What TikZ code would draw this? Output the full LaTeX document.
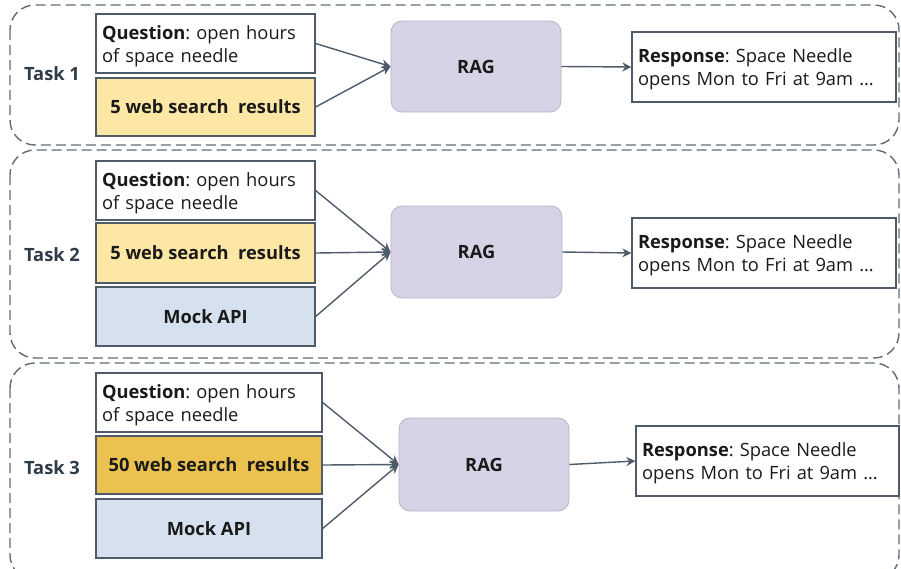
\documentclass[tikz,border=0pt]{standalone}
\usepackage{fontspec}
\setmainfont{Open Sans}
\usetikzlibrary{arrows.meta,positioning}
\definecolor{edge}{HTML}{4F5B69}
\definecolor{dashc}{HTML}{5F6B78}
\definecolor{ylight}{HTML}{FCE7A5}
\definecolor{ydark}{HTML}{EBC24F}
\definecolor{bluef}{HTML}{D5E1EF}
\definecolor{lav}{HTML}{D8D2E6}
\definecolor{lavb}{HTML}{B8B2C8}
\definecolor{labc}{HTML}{2F3B48}
\definecolor{txtc}{HTML}{1A1A1A}
\newcommand{\topfix}{\rule{0pt}{19pt}}
\tikzset{
  txt/.style={font=\fontsize{18.3}{23}\selectfont, text=txtc},
  inbox/.style={draw=edge, line width=1.3pt, inner sep=0pt, txt},
  qbox/.style={inbox, fill=white, align=left, text width=#1},
  wbox/.style={inbox, font=\fontsize{18.3}{23}\selectfont\bfseries},
  ragbox/.style={draw=lavb, fill=lav, line width=0.8pt, rounded corners=11pt, text=txtc, font=\fontsize{18.3}{23}\selectfont\bfseries},
  rbox/.style={inbox, fill=white, align=left},
  group/.style={draw=dashc, line width=1.4pt, dash pattern=on 10pt off 5pt, rounded corners=25pt},
  tasklbl/.style={text=labc, font=\fontsize{18.3}{20}\selectfont\bfseries},
  conn/.style={draw=edge, line width=1.4pt, -{Stealth[length=9pt,width=9pt]}},
}
\frenchspacing
\begin{document}
\begin{tikzpicture}[x=1pt,y=-1pt]
\useasboundingbox (0,0) rectangle (901,568);
% containers
\draw[group] (10,5) rectangle (899,145);
\draw[group] (10,150) rectangle (899,358);
\draw[group] (10,363) rectangle (899,580);

% Task 1
\node[tasklbl] (t1) at (52,74) {Task 1};
\node[qbox=207pt, minimum width=219pt, minimum height=59pt] (q1) at (205.5,43.5) {\topfix\textbf{Question}: open hours\\of space needle};
\node[wbox, fill=ylight, minimum width=219pt, minimum height=58pt] (w1) at (205.5,107) {5 web search\ \ results};
\node[ragbox, minimum width=170pt, minimum height=91pt] (rag1) at (476,66.5) {RAG};
\node[rbox, minimum width=264pt, minimum height=70pt, text width=252pt] (r1) at (764,67) {\topfix\textbf{Response}: Space Needle\\opens Mon to Fri at 9am \dots};
\draw[conn] (q1.east) -- (rag1.west);
\draw[conn] (w1.east) -- (rag1.west);
\draw[conn] (rag1.east) -- (r1.west);

% Task 2
\node[tasklbl] (t2) at (52,255) {Task 2};
\node[qbox=207pt, minimum width=219pt, minimum height=59pt] (q2) at (205.5,190.5) {\topfix\textbf{Question}: open hours\\of space needle};
\node[wbox, fill=ylight, minimum width=219pt, minimum height=60pt] (w2) at (205.5,253) {5 web search\ \ results};
\node[wbox, fill=bluef, minimum width=219pt, minimum height=59pt] (m2) at (205.5,316.5) {Mock API};
\node[ragbox, minimum width=171pt, minimum height=92pt] (rag2) at (476.5,252) {RAG};
\node[rbox, minimum width=264pt, minimum height=70pt, text width=252pt] (r2) at (764,253) {\topfix\textbf{Response}: Space Needle\\opens Mon to Fri at 9am \dots};
\draw[conn] (q2.east) -- (rag2.west);
\draw[conn] (w2.east) -- (rag2.west);
\draw[conn] (m2.east) -- (rag2.west);
\draw[conn] (rag2.east) -- (r2.west);

% Task 3
\node[tasklbl] (t3) at (52,468) {Task 3};
\node[qbox=214pt, minimum width=226pt, minimum height=59pt] (q3) at (209,402.5) {\topfix\textbf{Question}: open hours\\of space needle};
\node[wbox, fill=ydark, minimum width=226pt, minimum height=58pt] (w3) at (209,465) {50 web search\ \ results};
\node[wbox, fill=bluef, minimum width=226pt, minimum height=59pt] (m3) at (209,528.5) {Mock API};
\node[ragbox, minimum width=170pt, minimum height=93pt] (rag3) at (484,464.5) {RAG};
\node[rbox, minimum width=263pt, minimum height=70pt, text width=251pt] (r3) at (767.5,461) {\topfix\textbf{Response}: Space Needle\\opens Mon to Fri at 9am \dots};
\draw[conn] (q3.east) -- (rag3.west);
\draw[conn] (w3.east) -- (rag3.west);
\draw[conn] (m3.east) -- (rag3.west);
\draw[conn] (rag3.east) -- (r3.west);
\end{tikzpicture}
\end{document}
